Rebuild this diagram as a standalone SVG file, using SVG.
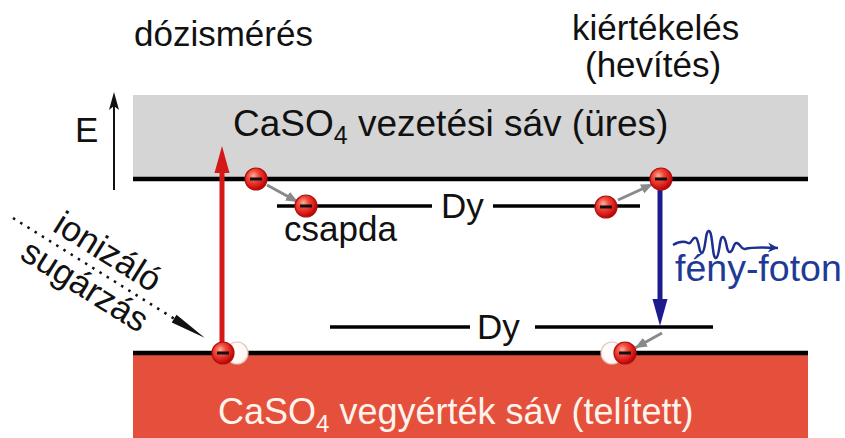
<svg xmlns="http://www.w3.org/2000/svg" width="845" height="438" viewBox="0 0 845 438">
<style>
  text { font-family: "Liberation Sans", Arial, sans-serif; fill: #111; }
  .big { font-size: 35px; }
  .band-line { stroke: #000; stroke-width: 4.5; }
  .trap { stroke: #000; stroke-width: 3.5; }
  .gray-arrow { stroke: #8a8a8a; stroke-width: 3; fill: none; }
</style>
<defs>
  <radialGradient id="eg" cx="0.38" cy="0.35" r="0.7">
    <stop offset="0" stop-color="#ffb0a0"/>
    <stop offset="0.35" stop-color="#f04a3a"/>
    <stop offset="0.8" stop-color="#d01010"/>
    <stop offset="1" stop-color="#a00000"/>
  </radialGradient>
  <radialGradient id="hg" cx="0.4" cy="0.4" r="0.7">
    <stop offset="0" stop-color="#ffffff"/>
    <stop offset="0.8" stop-color="#fff6f2"/>
    <stop offset="1" stop-color="#f0d8d0"/>
  </radialGradient>
  <g id="el">
    <circle r="11" fill="url(#eg)" stroke="#b01010" stroke-width="1.2"/>
    <rect x="-6" y="-1.5" width="12" height="3" fill="#111"/>
  </g>
  <g id="hole">
    <circle r="11" fill="url(#hg)" stroke="#e0c8c0" stroke-width="1.2"/>
  </g>
  <marker id="ga" markerUnits="userSpaceOnUse" markerWidth="14" markerHeight="12" refX="12" refY="6" orient="auto">
    <path d="M0,1 L12,6 L0,11 Z" fill="#8a8a8a"/>
  </marker>
  <marker id="wa" markerUnits="userSpaceOnUse" markerWidth="12" markerHeight="12" refX="10" refY="6" orient="auto">
    <path d="M0,1 L10,6 L0,11 L3,6 Z" fill="#1f2f8f"/>
  </marker>
</defs>

<g id="conduction-band">
  <rect x="133" y="95" width="675" height="83" fill="#d5d5d5"/>
  <line class="band-line" x1="133" y1="179" x2="808" y2="179"/>
  <text x="233" y="136" font-size="37">CaSO<tspan font-size="25" dy="8">4</tspan><tspan dy="-8"> vezetési sáv (üres)</tspan></text>
</g>

<g id="valence-band">
  <rect x="133" y="354" width="675" height="84" fill="#e5503c"/>
  <line class="band-line" x1="133" y1="353" x2="808" y2="353"/>
  <text x="218" y="424" font-size="36" style="fill:#fff4ec">CaSO<tspan font-size="24" dy="8">4</tspan><tspan dy="-8"> vegyérték sáv (telített)</tspan></text>
</g>

<g id="trap-upper">
  <line class="trap" x1="277" y1="206" x2="432" y2="206"/>
  <line class="trap" x1="493" y1="206" x2="640" y2="206"/>
  <text class="big" x="441" y="218">Dy</text>
  <text class="big" x="284" y="241">csapda</text>
</g>

<g id="trap-lower">
  <line class="trap" x1="330" y1="327" x2="470" y2="327"/>
  <line class="trap" x1="535" y1="327" x2="713" y2="327"/>
  <text class="big" x="477" y="339">Dy</text>
</g>

<g id="label-dozimeres">
  <text class="big" x="134" y="46">dózismérés</text>
</g>
<g id="label-kiertekeles">
  <text class="big" x="572" y="40">kiértékelés</text>
  <text class="big" x="585" y="77">(hevítés)</text>
</g>

<g id="energy-axis">
  <text class="big" x="75" y="142">E</text>
</g>

<g id="foton">
  <text x="675" y="281" font-size="37.5" style="fill:#1f3a96">fény-foton</text>
</g>

<g id="ionizing">
  <g transform="translate(13,218) rotate(32)">
    <text class="big" x="39" y="-10">ionizáló</text>
    <text class="big" x="26" y="31">sugárzás</text>
  </g>
</g>

<g id="connectors">
  <!-- energy axis -->
  <line x1="114" y1="190" x2="114" y2="106" stroke="#111" stroke-width="2"/>
  <path d="M114,92 L119,110 L114,106 L109,110 Z" fill="#111"/>
  <!-- ionizing radiation -->
  <g transform="translate(13,218) rotate(32)">
    <line x1="0" y1="0" x2="192" y2="0" stroke="#111" stroke-width="2.5" stroke-dasharray="2.5 6"/>
    <path d="M190,-4.5 L226,0 L190,4.5 Z" fill="#111"/>
  </g>
  <!-- excitation (red) -->
  <line x1="222" y1="345" x2="222" y2="170" stroke="#d41818" stroke-width="5"/>
  <path d="M214.5,173 L229.5,173 L222,146 Z" fill="#d41818"/>
  <!-- recombination (blue) -->
  <line x1="660" y1="190" x2="660" y2="302" stroke="#1c1c8c" stroke-width="5"/>
  <path d="M652.5,299 L667.5,299 L660,326 Z" fill="#1c1c8c"/>
  <!-- gray transitions -->
  <line class="gray-arrow" x1="267" y1="185" x2="298" y2="202" marker-end="url(#ga)"/>
  <line class="gray-arrow" x1="618" y1="200" x2="653" y2="184" marker-end="url(#ga)"/>
  <line class="gray-arrow" x1="662" y1="333" x2="635" y2="348" marker-end="url(#ga)"/>
  <!-- photon wave -->
  <path d="M673,245 C680,241 684,241 688,243 C692,245 692,236 696,238 C699,240 699,254 702,253 C706,251 705,230 709,231 C713,232 712,259 716,258 C720,257 719,236 723,237 C727,238 726,253 730,252 C734,251 733,242 737,243 C741,244 741,250 745,249 C752,247 760,247 778,248" fill="none" stroke="#1f2f8f" stroke-width="2.5" marker-end="url(#wa)"/>
</g>

<g id="electrons">
  <use href="#el" x="256" y="179"/>
  <use href="#el" x="306" y="206"/>
  <use href="#el" x="606" y="207"/>
  <use href="#el" x="661" y="179"/>
  <use href="#hole" x="237" y="353"/>
  <use href="#el" x="223" y="353"/>
  <use href="#hole" x="612" y="353"/>
  <use href="#el" x="625" y="353"/>
</g>
</svg>
